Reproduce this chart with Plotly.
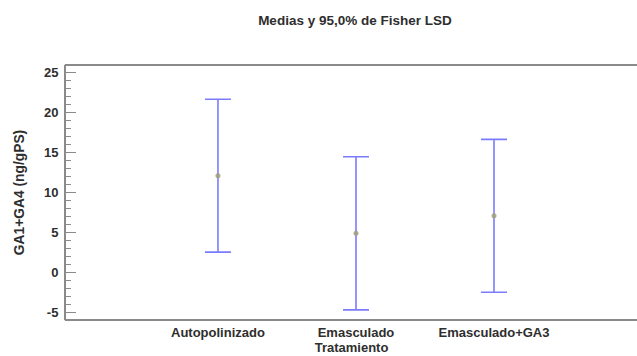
import plotly.graph_objects as go

# Treatment groups, group means and 95% Fisher LSD half-widths
tratamientos = ["Autopolinizado", "Emasculado", "Emasculado+GA3"]
medias = [12.04, 4.84, 7.02]
semi_lsd = [9.56, 9.57, 9.56]

# Y axis tick values and their labels (plain hyphen for negatives)
y_ticks = [-5, 0, 5, 10, 15, 20, 25]
y_tick_labels = ["-5", "0", "5", "10", "15", "20", "25"]

fig = go.Figure()
fig.add_trace(go.Scatter(
    x=tratamientos,
    y=medias,
    mode="markers",
    marker=dict(size=5, color="rgba(160,160,120,0.85)", line=dict(width=0)),
    error_y=dict(type="data", array=semi_lsd, visible=True,
                 color="rgba(100,100,255,0.85)", thickness=1.6, width=13),
    showlegend=False,
))

font_name = "Liberation Sans"
axis_gray = "#8a8a8a"
text_col = "#2e2e2e"

# Top and bottom frame lines, running on past the right edge of the page
frame = [
    dict(type="line", xref="paper", yref="paper", x0=-0.002, x1=1.05, y0=y, y1=y,
         line=dict(color=axis_gray, width=2), layer="above")
    for y in (0, 1)
]

fig.update_layout(
    width=637, height=356,
    margin=dict(l=66, r=0, t=65, b=36),
    paper_bgcolor="white", plot_bgcolor="white",
    font=dict(family=font_name, color=text_col, size=13),
    shapes=frame,
    title=dict(text="<b>Medias y 95,0% de Fisher LSD</b>",
               xref="paper", x=0.506, xanchor="center",
               yref="container", y=0.944, yanchor="middle",
               font=dict(size=13.5, color=text_col)),
)

fig.update_xaxes(
    range=[-1.101, 3.036], automargin=False,
    showline=False, ticks="", showgrid=False, zeroline=False,
    ticklabelstandoff=3,
    tickfont=dict(size=13, color=text_col, weight="bold"),
    title=dict(text="<b>Tratamiento</b>", font=dict(size=13, color=text_col),
               standoff=0),
)

fig.update_yaxes(
    range=[-6.0, 25.875], automargin=False,
    tickvals=y_ticks, ticktext=y_tick_labels,
    showline=True, linecolor=axis_gray, linewidth=2, mirror=False,
    ticks="inside", ticklen=10, tickwidth=1, tickcolor=axis_gray,
    minor=dict(dtick=1, ticks="inside", ticklen=5, tickwidth=1,
               tickcolor=axis_gray, showgrid=False),
    showgrid=False, zeroline=False,
    ticklabelstandoff=3,
    tickfont=dict(size=13, color=text_col, weight="bold"),
    title=dict(text="<b>GA1+GA4 (ng/gPS)</b>", font=dict(size=13.8, color=text_col),
               standoff=16),
)

fig.write_html("out.html", config={"staticPlot": True})
